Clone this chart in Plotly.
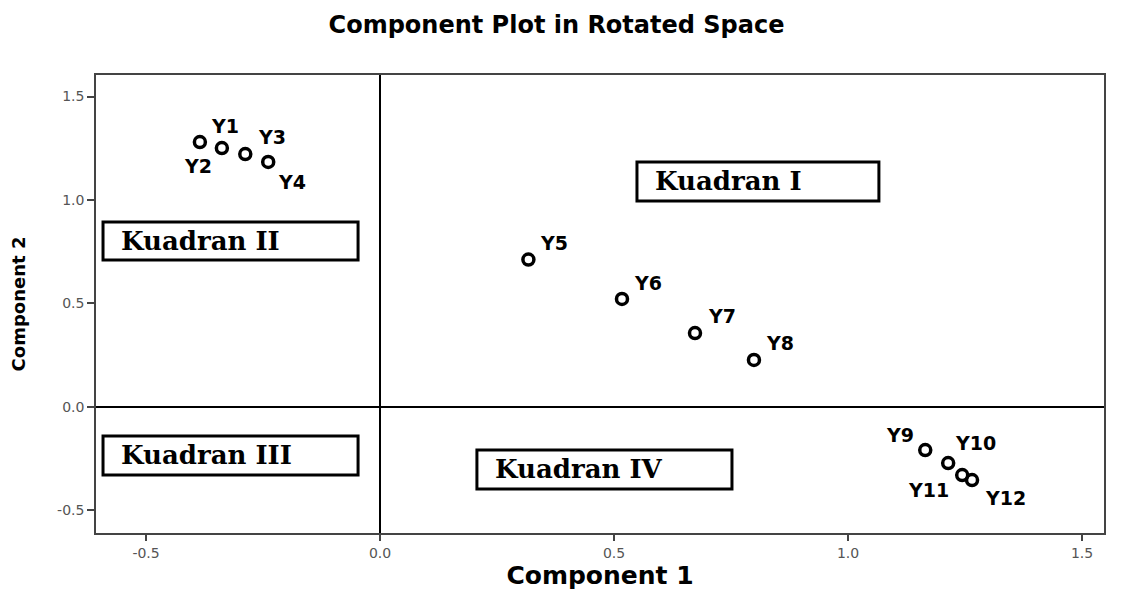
import plotly.graph_objects as go

# ---- data ----
names = ["Y1", "Y2", "Y3", "Y4", "Y5", "Y6", "Y7", "Y8", "Y9", "Y10", "Y11", "Y12"]
comp1 = [-0.385, -0.338, -0.288, -0.239, 0.317, 0.517, 0.673, 0.799, 1.165, 1.214, 1.244, 1.265]
comp2 = [1.280, 1.251, 1.222, 1.184, 0.712, 0.522, 0.357, 0.227, -0.208, -0.271, -0.329, -0.353]

quad_labels = ["Kuadran I", "Kuadran II", "Kuadran III", "Kuadran IV"]
x_ticks = [-0.5, 0.0, 0.5, 1.0, 1.5]
x_tick_text = ["-0.5", "0.0", "0.5", "1.0", "1.5"]
y_ticks = [-0.5, 0.0, 0.5, 1.0, 1.5]
y_tick_text = ["-0.5", "0.0", "0.5", "1.0", "1.5"]

# ---- styling (label pixel offsets, box extents) ----
label_shift = [(25, 16), (-24, -18), (27, 17), (24, -20), (26, 17), (26, 16),
               (27, 17), (26, 17), (-25, 15), (27, 20), (-34, -15), (33, -18)]
quad_boxes = [(0.549, 1.066, 0.995, 1.184),
              (-0.592, -0.047, 0.710, 0.894),
              (-0.592, -0.047, -0.329, -0.140),
              (0.207, 0.752, -0.396, -0.208)]

fig = go.Figure()
fig.add_trace(go.Scatter(
    x=comp1, y=comp2, mode="markers",
    marker=dict(symbol="circle-open", size=11, color="black", line=dict(width=3.5, color="black")),
    hoverinfo="text", text=names, showlegend=False,
))

annotations = []
for n, xv, yv, (dx, dy) in zip(names, comp1, comp2, label_shift):
    annotations.append(dict(x=xv, y=yv, xref="x", yref="y", text=n, showarrow=False,
                            xshift=dx, yshift=dy,
                            font=dict(family="DejaVu Sans", size=19, color="black", weight="bold")))

shapes = []
for lab, (x0, x1, y0, y1) in zip(quad_labels, quad_boxes):
    shapes.append(dict(type="rect", xref="x", yref="y", x0=x0, x1=x1, y0=y0, y1=y1,
                       line=dict(color="black", width=3), fillcolor="white", layer="above"))
    annotations.append(dict(x=x0, y=(y0 + y1) / 2, xref="x", yref="y", text=lab,
                            showarrow=False, xanchor="left", xshift=16,
                            font=dict(family="DejaVu Serif", size=26, color="black", weight="bold")))

fig.update_layout(
    width=1124, height=586,
    margin=dict(l=88, r=28, t=67, b=61, autoexpand=False),
    paper_bgcolor="white", plot_bgcolor="white",
    title=dict(text="Component Plot in Rotated Space", x=0.488, xanchor="center",
               xref="container", y=0.971, yanchor="middle",
               font=dict(family="DejaVu Sans", size=24, color="black", weight="bold")),
    shapes=shapes, annotations=annotations,
)
fig.update_xaxes(
    range=[-0.607, 1.547], tickvals=x_ticks, ticktext=x_tick_text, automargin=False,
    showgrid=False, showline=True, mirror=True, linecolor="#444", linewidth=1.5,
    zeroline=True, zerolinecolor="black", zerolinewidth=2,
    ticks="outside", ticklen=6, tickcolor="#444", tickwidth=1.5,
    tickfont=dict(family="DejaVu Sans", size=14, color="#555"),
    title=dict(text="Component 1", standoff=7,
               font=dict(family="DejaVu Sans", size=25, color="black", weight="bold")),
)
fig.update_yaxes(
    range=[-0.609, 1.604], tickvals=y_ticks, ticktext=y_tick_text, automargin=False,
    showgrid=False, showline=True, mirror=True, linecolor="#444", linewidth=1.5,
    zeroline=True, zerolinecolor="black", zerolinewidth=2,
    ticks="outside", ticklen=7, tickcolor="#444", tickwidth=1.5,
    tickfont=dict(family="DejaVu Sans", size=14, color="#555"),
    title=dict(text="Component 2", standoff=28,
               font=dict(family="DejaVu Sans", size=18, color="black", weight="bold")),
)

fig.write_html("out.html")
